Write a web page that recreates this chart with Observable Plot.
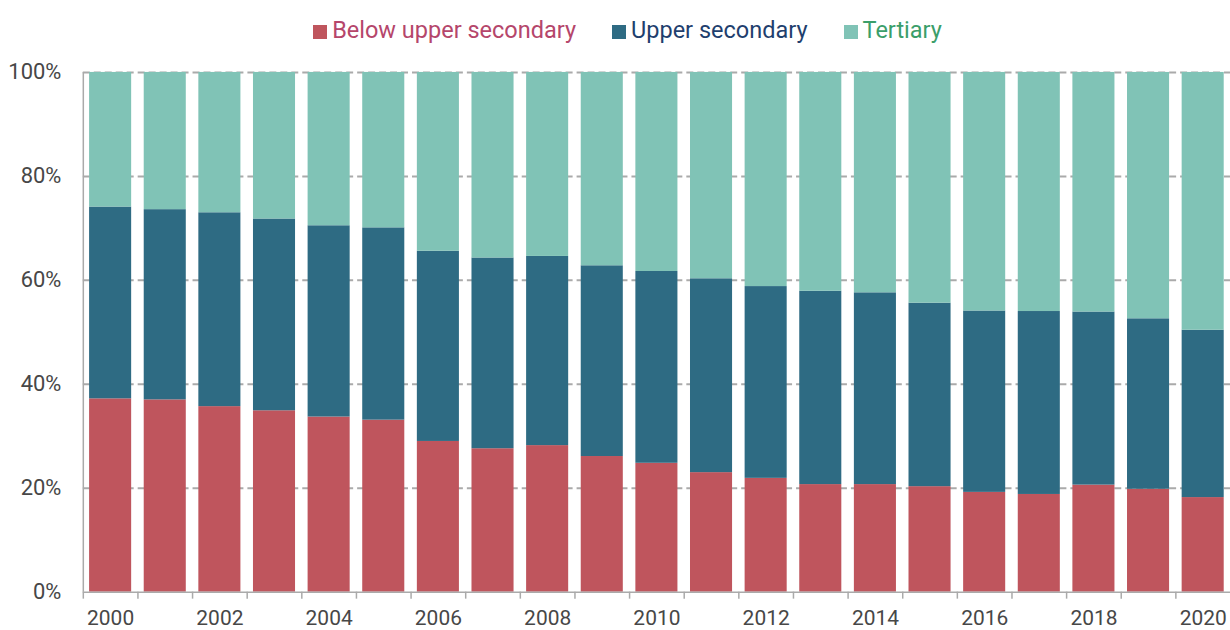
<!DOCTYPE html>
<html><head><meta charset="utf-8">
<script src="https://cdn.jsdelivr.net/npm/d3@7"></script>
<script src="https://cdn.jsdelivr.net/npm/@observablehq/plot@0.6"></script>
<style>
body{margin:0;overflow:hidden;background:#fff;font-family:Roboto,sans-serif}
#legend{display:flex;justify-content:center;align-items:center;height:50px;width:1230px;padding-left:25px;padding-top:10px;box-sizing:border-box;font-size:23.5px;gap:36px}
.item{display:flex;align-items:center;gap:5px}
.sw{width:14px;height:14px;display:inline-block;margin-top:4px}
</style></head><body>
<div id="legend"></div><div id="chart"></div>
<script>
const years = [2000,2001,2002,2003,2004,2005,2006,2007,2008,2009,2010,2011,2012,2013,2014,2015,2016,2017,2018,2019,2020];
const below = [37.2,37.0,35.7,34.9,33.7,33.1,29.0,27.6,28.2,26.1,24.8,23.0,21.9,20.7,20.7,20.3,19.2,18.8,20.6,19.8,18.2];
const upper = [36.9,36.6,37.3,36.9,36.8,37.0,36.6,36.7,36.4,36.7,36.9,37.3,36.9,37.2,36.9,35.3,34.9,35.2,33.3,32.8,32.2];
const tertiary = [25.9,26.4,27.0,28.2,29.5,29.9,34.4,35.7,35.4,37.2,38.3,39.7,41.2,42.1,42.4,44.4,45.9,46.0,46.1,47.4,49.6];
const categories = ["Below upper secondary","Upper secondary","Tertiary"];
const barColors = ["#bf555d","#2e6b83","#80c3b6"];
const textColors = ["#b5466b","#1f3f6e","#3b9e6a"];
const yTicks = [0,20,40,60,80,100];
const gridTicks = [20,40,60,80,100];
const xLabelYears = years.filter(y => y % 2 === 0);

const series = [below, upper, tertiary];
const data = years.flatMap((yr, i) => categories.map((c, k) => ({year: yr, cat: c, value: series[k][i]})));

// legend
const legend = document.getElementById("legend");
categories.forEach((c, k) => {
  const it = document.createElement("div"); it.className = "item";
  const sw = document.createElement("span"); sw.className = "sw"; sw.style.background = barColors[k];
  const tx = document.createElement("span"); tx.textContent = c; tx.style.color = textColors[k];
  it.appendChild(sw); it.appendChild(tx); legend.appendChild(it);
});

const W = 1233, ML = 83, MR = 0;
const step = (W - ML - MR) / years.length;

const chart = Plot.plot({
  width: W, height: 580,
  marginLeft: ML, marginRight: MR, marginTop: 22, marginBottom: 37,
  style: {fontFamily: "Roboto, sans-serif", background: "white"},
  x: {type: "band", domain: years, paddingInner: 0.23, paddingOuter: 0.115, round: false, label: null},
  y: {domain: [0, 100], label: null},
  color: {domain: categories, range: barColors},
  marks: [
    Plot.ruleY(gridTicks, {stroke: "#aaa", strokeWidth: 2, strokeDasharray: "7,4"}),
    Plot.barY(data, {x: "year", y: "value", fill: "cat"}),
    Plot.ruleY([0], {stroke: "#aaa", strokeWidth: 1.5}),
    Plot.ruleX([years[0]], {dx: -step / 2, stroke: "#aaa", strokeWidth: 1.5}),
    Plot.axisX(years, {tickFormat: () => "", tickSize: 7, dx: -step / 2, stroke: "#aaa", strokeWidth: 1.5, label: null}),
    Plot.axisX(xLabelYears, {tickSize: 0, tickPadding: 18, tickFormat: d => String(d), fontSize: 21, fill: "#474747", label: null}),
    Plot.axisY(yTicks, {tickSize: 0, tickPadding: 22, tickFormat: d => d + "%", fontSize: 22, fill: "#474747", label: null})
  ]
});
document.getElementById("chart").appendChild(chart);
</script>
</body></html>
